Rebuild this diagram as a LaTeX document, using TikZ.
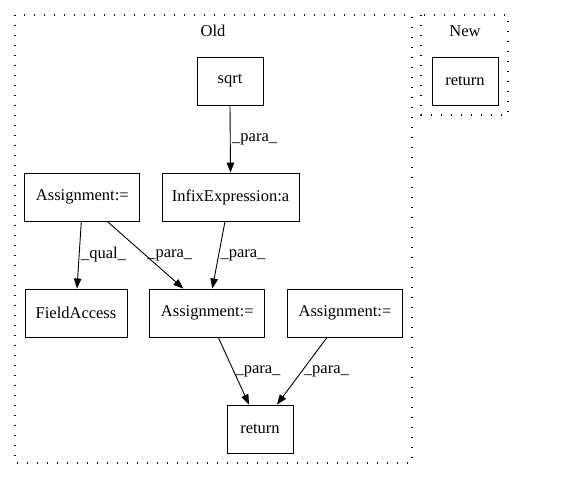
\documentclass[tikz,border=0pt]{standalone}
\usepackage{fontspec}
\setmainfont{Liberation Serif}
\usetikzlibrary{positioning,arrows.meta}

\begin{document}
\begin{tikzpicture}[x=1pt, y=-1pt, line width=0.9pt, >={Triangle[length=10pt,width=7.5pt]},
    box/.style={draw, rectangle, minimum width=#1, minimum height=48pt, inner sep=0pt, font=\fontsize{16.5}{20}\selectfont},
    box/.default=66pt,
    lbl/.style={anchor=west, inner sep=1.5pt, font=\fontsize{16.5}{20}\selectfont},
    cluster/.style={line width=1.3pt, dash pattern=on 1.3pt off 8.7pt}]
    \useasboundingbox (0,0) rectangle (568,480);

    % Clusters
    \draw[cluster] (15,15) rectangle (412,463);
    \draw[cluster] (421,15) rectangle (508,115);
    \node[font=\fontsize{16.5}{20}\selectfont] (oldTitle) at (213,31) {Old};
    \node[font=\fontsize{16.5}{20}\selectfont] (newTitle) at (465,31) {New};

    % Components
    \node[box] (sqrtCall) at (230,81) {sqrt};
    \node[box] (retNew) at (465,81) {return};
    \node[box=115pt] (assignA) at (82.3,197) {Assignment:=};
    \node[box=137pt] (infixExpr) at (230.5,197) {InfixExpression:a};
    \node[box=102pt] (fieldAcc) at (76,313) {FieldAccess};
    \node[box=115pt] (assignB) at (207.3,313) {Assignment:=};
    \node[box=115pt] (assignC) at (345,313) {Assignment:=};
    \node[box] (retOld) at (260,429) {return};

    % Connections
    \draw[->] (sqrtCall.south) -- node[lbl, pos=0.5] {\_para\_} (infixExpr.north);
    \draw[->] ([xshift=-1pt]assignA.south) -- node[lbl, pos=0.5] {\_qual\_} ([xshift=1pt]fieldAcc.north);
    \draw[->] ([xshift=25pt]assignA.south) -- node[lbl, pos=0.5] {\_para\_} ([xshift=-24pt]assignB.north);
    \draw[->] ([xshift=-5.5pt]infixExpr.south) -- node[lbl, pos=0.5] {\_para\_} ([xshift=5pt]assignB.north);
    \draw[->] ([xshift=11pt]assignB.south) -- node[lbl, pos=0.5] {\_para\_} ([xshift=-11pt]retOld.north);
    \draw[->] ([xshift=-18pt]assignC.south) -- node[lbl, pos=0.5] {\_para\_} ([xshift=17pt]retOld.north);

\end{tikzpicture}
\end{document}
